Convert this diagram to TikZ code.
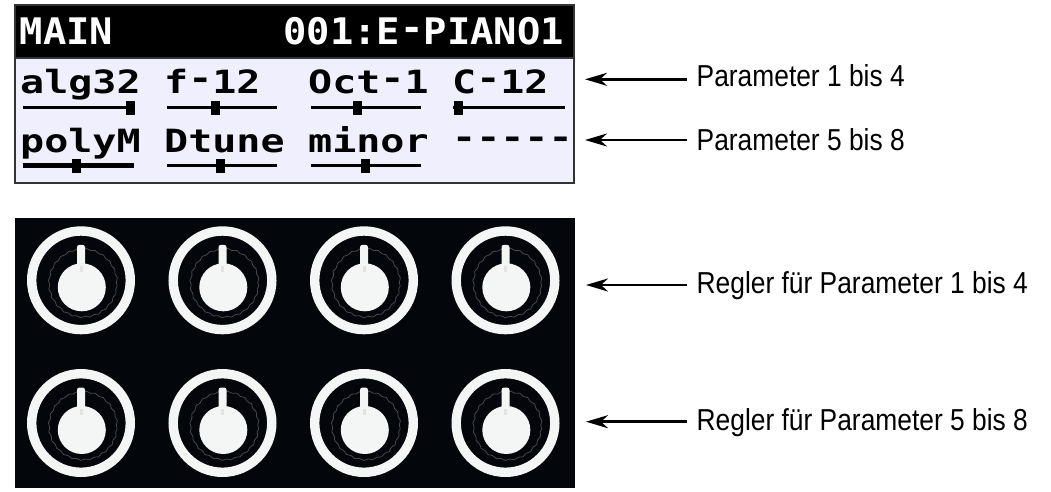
\documentclass[tikz,border=0pt]{standalone}
\usepackage{fontspec}
\usepackage{graphicx}
\usetikzlibrary{arrows.meta,decorations.pathmorphing}

% Display fonts
\newfontfamily\hdrfont{DejaVu Sans Mono}[FakeStretch=1.06]
\newfontfamily\lcdfont{DejaVu Sans Mono}[FakeStretch=1.25]
\newfontfamily\labfont{Liberation Sans}[FakeStretch=0.87]

\definecolor{panelbg}{HTML}{EFEFFD}
\definecolor{framegray}{HTML}{333333}
\definecolor{knobbg}{HTML}{03060A}
\definecolor{knobwhite}{HTML}{F4F6F6}
\definecolor{knurl}{HTML}{45474A}

% LCD style dash: a hyphen raised to mid-digit height
\newcommand\lcddash{\raisebox{0.12em}{-}}

\begin{document}
\begin{tikzpicture}[x=1pt,y=-1pt,
  hdrtext/.style={inner sep=0pt, text=white, font=\hdrfont\bfseries\fontsize{36.6}{40}\selectfont},
  lcdtext/.style={inner sep=0pt, anchor=base west, text=black, font=\lcdfont\bfseries\fontsize{32}{36}\selectfont},
  labtext/.style={inner xsep=10pt, inner ysep=0pt, anchor=base west, text=black, font=\labfont\fontsize{30.3}{34}\selectfont},
  arr/.style={line width=2.5pt, -{Stealth[length=22pt,width=13pt,inset=7pt]}},
]
\useasboundingbox (0,0) rectangle (1051,492);
\fill[white] (0,0) rectangle (1051,492);

% ---- display ----
\fill[panelbg] (15,58) rectangle (574,182.7);
\fill[black] (15,5) rectangle (574,58);
\draw[framegray, line width=2pt] (15,5) rectangle (574,182.7);
\draw[framegray, line width=1.5pt] (15,58) -- (574,58);

\node[hdrtext, anchor=base west] (hdrL) at (19.5,45) {MAIN};
\node[hdrtext, anchor=base east] (hdrR) at (564,45) {001:E\lcddash PIANO1};

\node[lcdtext] (p1) at (20,93.3)  {alg32};
\node[lcdtext] (p2) at (164,93.3) {f\lcddash 12};
\node[lcdtext] (p3) at (308,93.3) {Oct\lcddash 1};
\node[lcdtext] (p4) at (452,93.3) {C\lcddash 12};
\node[lcdtext] (p5) at (20,152)   {polyM};
\node[lcdtext] (p6) at (164,152)  {Dtune};
\node[lcdtext] (p7) at (308,152)  {minor};
\node[lcdtext] (p8) at (452,152)  {\lcddash\lcddash\lcddash\lcddash\lcddash};

% sliders: x from, x to, thumb centre, y, line width
\foreach \xa/\xb/\xt/\yy/\lw in {22.7/134/130/107.7/3.5, 166.7/276.7/215.3/107.7/3.5,
    310.7/420.7/357/107.7/3.5, 453.3/565/458/107.7/3.5,
    22.7/134/76.3/165.7/5, 166.7/276.7/220.7/165.7/3.5, 310.7/420.7/365.3/165.7/3.5}{
  \draw[line width=\lw pt] (\xa,\yy) -- (\xb,\yy);
  \fill (\xt-4.5,\yy-7) rectangle (\xt+4.5,\yy+7);
}

% ---- knob panel ----
\fill[knobbg] (15,218.3) rectangle (575,488);
\foreach \cx in {81,222.5,364,505.5}{
  \foreach \cy in {280.3,423}{
    \draw[knobwhite, line width=9.4pt] (\cx,\cy) circle[radius=49.3pt];
    \draw[knurl, line width=0.8pt, decorate, decoration={snake, segment length=9pt, amplitude=0.7pt}]
      (\cx+2,\cy+5) circle[radius=34pt];
    \fill[knobwhite] (\cx+0.8,\cy+7) circle[radius=24pt];
    \fill[knobwhite, rounded corners=2.5pt] (\cx-4,\cy-35.5) rectangle (\cx+4,\cy-8);
    \fill[gray!22] (\cx-1.5,\cy-14) rectangle (\cx+1.5,\cy-8);
  }
}

% ---- labels and arrows ----
\coordinate (a1) at (585,79.3);
\coordinate (a2) at (585,140);
\coordinate (a3) at (586,285);
\coordinate (a4) at (586,421.7);

\node[labtext] (lab1) at (686.5,86.7) {Parameter 1 bis 4};
\node[labtext] (lab2) at (686.5,150)  {Parameter 5 bis 8};
\node[labtext] (lab3) at (686.5,293.3) {Regler für Parameter 1 bis 4};
\node[labtext] (lab4) at (686.5,430)  {Regler für Parameter 5 bis 8};

\draw[arr] (lab1.west |- a1) -- (a1);
\draw[arr] (lab2.west |- a2) -- (a2);
\draw[arr] (lab3.west |- a3) -- (a3);
\draw[arr] (lab4.west |- a4) -- (a4);
\end{tikzpicture}
\end{document}
